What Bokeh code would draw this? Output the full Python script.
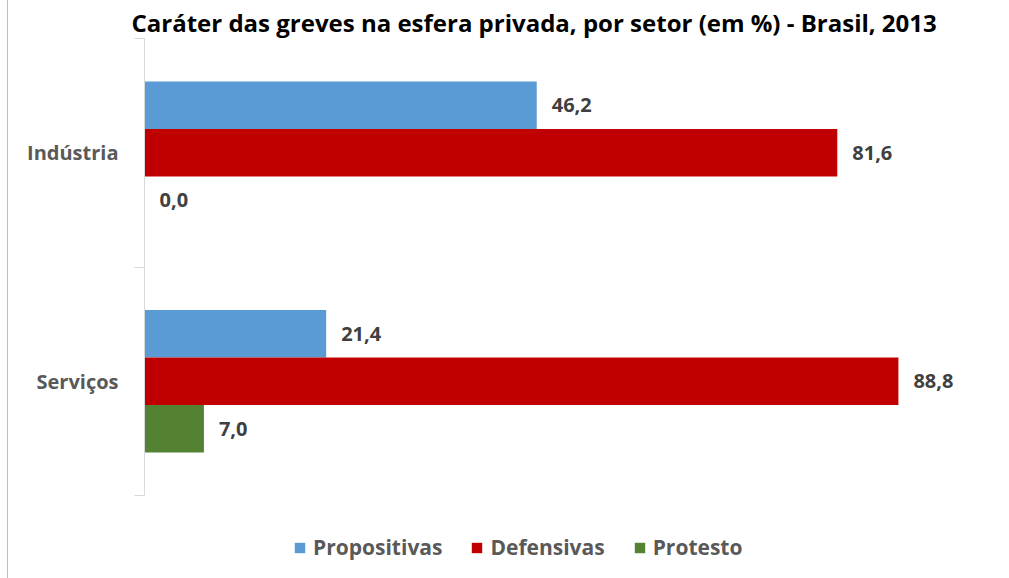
from bokeh.plotting import figure
from bokeh.models import (FixedTicker, Legend, LegendItem, ColumnDataSource,
                          LabelSet, Range1d)
from bokeh.core.properties import value
from bokeh.embed import file_html
from bokeh.resources import INLINE

title_text = "Caráter das greves na esfera privada, por setor (em %) - Brasil, 2013"
categories = ["Indústria", "Serviços"]
series = ["Propositivas", "Defensivas", "Protesto"]
propositivas = [46.2, 21.4]
defensivas = [81.6, 88.8]
protesto = [0.0, 7.0]
colors = ["#5B9BD5", "#C00000", "#548235"]

W, H = 1009, 578
FONT = "Open Sans"
n = len(categories)

# frame: left 144, top 38, category block ends at 495, frame runs to the bottom
top, block_bottom = 38, 495
px_per_cat = (block_bottom - top) / n
y_start = -(H - block_bottom) / px_per_cat

p = figure(width=W, height=H, output_backend="svg", toolbar_location=None,
           x_range=Range1d(0, 100), y_range=Range1d(y_start, n),
           min_border_left=144, min_border_right=16,
           min_border_top=top, min_border_bottom=0,
           border_fill_color=None, background_fill_color=None,
           styles={"background": "linear-gradient(to right, #ffffff 7px, #bfbfbf 7px, #bfbfbf 8px, #ffffff 8px)"})

p.title.text = title_text
p.title.align = "left"
p.title.text_font = FONT
p.title.text_font_size = "24px"
p.title.text_font_style = "bold"
p.title.text_color = "#000000"
p.title.standoff = 0
p.title.offset = -13

centers = [n - i - 0.5 for i in range(n)]
bar_h = 0.208
offsets = [bar_h, 0.0, -bar_h]
values = [propositivas, defensivas, protesto]

items = []
for s, vals, col, off in zip(series, values, colors, offsets):
    src = ColumnDataSource(dict(
        y=[c + off for c in centers],
        v=vals,
        lab=[f"{v:.1f}".replace(".", ",") for v in vals],
    ))
    r = p.hbar(y="y", left=0, right="v", height=bar_h, source=src,
               fill_color=col, line_color=None)
    items.append(LegendItem(label=s, renderers=[r]))
    p.add_layout(LabelSet(x="v", y="y", text="lab", source=src, x_offset=15,
                          text_baseline="middle", text_align="left",
                          text_font=value(FONT), text_font_size=value("20px"),
                          text_font_style="bold", text_color="#404040"))

p.xaxis.visible = False
p.xgrid.visible = False
p.ygrid.visible = False
p.outline_line_color = None

ya = p.yaxis[0]
ya.bounds = (0, n)
ya.ticker = FixedTicker(ticks=centers, minor_ticks=[float(i) for i in range(n + 1)])
ya.major_label_overrides = {c: cat for c, cat in zip(centers, categories)}
ya.major_tick_out = 0
ya.major_tick_in = 0
ya.minor_tick_out = 10
ya.minor_tick_in = 0
ya.minor_tick_line_color = "#d9d9d9"
ya.axis_line_color = "#d9d9d9"
ya.major_label_standoff = 16
ya.major_label_text_font = FONT
ya.major_label_text_font_size = "20px"
ya.major_label_text_font_style = "bold"
ya.major_label_text_color = "#595959"

legend = Legend(items=items, orientation="horizontal", location=(149, 17),
                glyph_width=13, glyph_height=13, label_standoff=7, spacing=28,
                padding=0, margin=0, border_line_color=None,
                background_fill_alpha=0,
                label_text_font=FONT, label_text_font_size="21px",
                label_text_font_style="bold", label_text_color="#595959")
p.add_layout(legend)

open("out.html", "w").write(file_html(p, INLINE))
